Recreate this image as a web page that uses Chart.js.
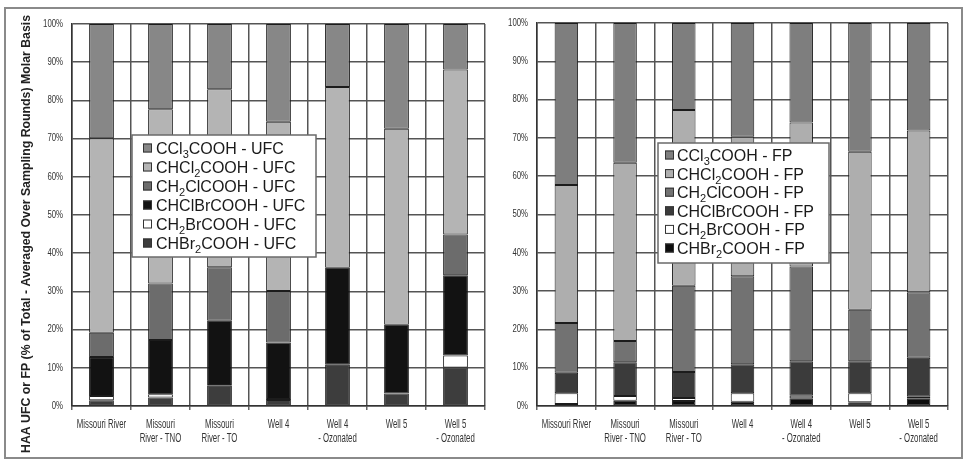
<!DOCTYPE html>
<html>
<head>
<meta charset="utf-8">
<title>HAA speciation - UFC and FP</title>
<script src="https://cdn.jsdelivr.net/npm/chart.js@4.4.1/dist/chart.umd.min.js"></script>
<style>
  html, body { margin: 0; padding: 0; background: #fff; }
  #wrap { position: relative; width: 966px; height: 461px; overflow: hidden; }
  #frame { position: absolute; left: 4px; top: 7px; width: 959px; height: 452px; border: 2px solid #8a8a8a; box-sizing: border-box; }
  canvas { position: absolute; top: 0; }
  #ufcChart { left: 0; }
  #fpChart { left: 490px; }
</style>
</head>
<body>
<div id="wrap">
  <div id="frame"></div>
  <canvas id="ufcChart" width="490" height="461"></canvas>
  <canvas id="fpChart" width="476" height="461"></canvas>
</div>
<script>
// sampling locations
const sites = ['Missouri River', ['Missouri', 'River - TNO'], ['Missouri', 'River - TO'], 'Well 4', ['Well 4', '- Ozonated'], 'Well 5', ['Well 5', '- Ozonated']];

// species, bottom of stack first ("_" marks a subscript digit)
const species = ['CHBr_2COOH', 'CH_2BrCOOH', 'CHClBrCOOH', 'CH_2ClCOOH', 'CHCl_2COOH', 'CCl_3COOH'];

// % of total (molar), UFC
const ufcCHBr2 = [1.5, 2.2, 5.3, 1.6, 10.8, 3.3, 10.1];
const ufcCH2Br = [1.1, 0.9, 0.2, 0.2, 0, 0, 3.1];
const ufcCHClBr = [10.2, 14.2, 16.8, 14.8, 25.4, 18.0, 21.0];
const ufcCH2Cl = [6.4, 14.8, 14.0, 13.5, 0, 0, 10.7];
const ufcCHCl2 = [50.9, 45.6, 46.6, 44.3, 47.3, 51.3, 43.2];
const ufcCCl3 = [29.9, 22.3, 17.1, 25.6, 16.5, 27.4, 11.9];

// % of total (molar), FP
const fpCHBr2 = [0.5, 1.4, 1.3, 1.1, 2.0, 1.0, 2.0];
const fpCH2Br = [2.8, 1.2, 0.8, 2.2, 0.7, 2.3, 0.4];
const fpCHClBr = [5.4, 8.8, 6.8, 7.6, 9.0, 8.4, 10.2];
const fpCH2Cl = [13.0, 5.6, 22.5, 23.0, 24.7, 13.4, 17.1];
const fpCHCl2 = [36.0, 46.5, 45.9, 36.4, 37.6, 41.3, 42.2];
const fpCCl3 = [42.3, 36.5, 22.7, 29.7, 26.0, 33.6, 28.1];

const yTicks = [0, 10, 20, 30, 40, 50, 60, 70, 80, 90, 100];

const ufcFills = ['#3d3d3d', '#ffffff', '#121212', '#6c6c6c', '#b4b4b4', '#878787'];
const fpFills = ['#0d0d0d', '#ffffff', '#3b3b3b', '#727272', '#aeaeae', '#7e7e7e'];

const sans = '"Liberation Sans", Arial, sans-serif';

// writes a formula with subscript digits
function drawFormula(ctx, text, x, y) {
  let cx = x;
  for (let i = 0; i < text.length; i++) {
    if (text[i] === '_') {
      ctx.font = '11px ' + sans;
      ctx.fillText(text[i + 1], cx, y + 4);
      cx += ctx.measureText(text[i + 1]).width;
      i++;
    } else {
      ctx.font = '16px ' + sans;
      ctx.fillText(text[i], cx, y);
      cx += ctx.measureText(text[i]).width;
    }
  }
}

// boxed legend sitting over the plot
const boxLegend = {
  id: 'boxLegend',
  afterDraw(chart, args, o) {
    const ctx = chart.ctx;
    const ds = chart.data.datasets;
    ctx.save();
    ctx.fillStyle = '#fff';
    ctx.fillRect(o.x, o.y, o.w, o.h);
    ctx.strokeStyle = '#6a6a6a';
    ctx.lineWidth = 1.5;
    ctx.strokeRect(o.x, o.y, o.w, o.h);
    ctx.textBaseline = 'alphabetic';
    for (let i = 0; i < ds.length; i++) {
      const d = ds[ds.length - 1 - i];
      const cy = o.firstRow + i * o.rowStep;
      ctx.fillStyle = d.backgroundColor;
      ctx.fillRect(o.swatchX, cy - 4.5, 9, 9);
      ctx.strokeStyle = '#333';
      ctx.lineWidth = 1;
      ctx.strokeRect(o.swatchX + 0.5, cy - 4, 8, 8);
      ctx.fillStyle = '#1a1a1a';
      drawFormula(ctx, d.formula + o.suffix, o.textX, cy + 6);
    }
    ctx.restore();
  }
};

// narrow tick labels (condensed horizontally)
const squeezedTicks = {
  id: 'squeezedTicks',
  afterDraw(chart) {
    const ctx = chart.ctx;
    const xs = chart.scales.x;
    const ys = chart.scales.y;
    ctx.save();
    ctx.fillStyle = '#333';
    ctx.textBaseline = 'middle';
    ctx.font = '13px ' + sans;
    ctx.textAlign = 'center';
    chart.data.labels.forEach((lab, i) => {
      const lines = Array.isArray(lab) ? lab : [lab];
      const px = xs.getPixelForValue(i);
      lines.forEach((ln, j) => {
        ctx.save();
        ctx.translate(px, xs.top + 18.5 + j * 14);
        ctx.scale(0.6, 1);
        ctx.fillText(ln, 0, 0);
        ctx.restore();
      });
    });
    ctx.font = '10px ' + sans;
    ctx.textAlign = 'right';
    yTicks.forEach(v => {
      ctx.save();
      ctx.translate(ys.right - 9, ys.getPixelForValue(v));
      ctx.scale(0.78, 1);
      ctx.fillText(v + '%', 0, 0);
      ctx.restore();
    });
    ctx.restore();
  }
};

// rotated y title, stretched to a fixed length
const sideTitle = {
  id: 'sideTitle',
  afterDraw(chart, args, o) {
    if (!o.text) return;
    const ctx = chart.ctx;
    ctx.save();
    ctx.font = 'bold 12px ' + sans;
    const w = ctx.measureText(o.text).width;
    ctx.translate(o.x, o.y);
    ctx.rotate(-Math.PI / 2);
    ctx.scale(o.length / w, 1);
    ctx.fillStyle = '#222';
    ctx.textAlign = 'center';
    ctx.textBaseline = 'middle';
    ctx.fillText(o.text, 0, 0);
    ctx.restore();
  }
};

function makeChart(id, series, fills, suffix, lay) {
  const datasets = series.map((vals, i) => ({
    label: species[i].replace(/_/g, '') + suffix,
    formula: species[i],
    data: vals,
    backgroundColor: fills[i],
    borderColor: '#1c1c1c',
    borderWidth: 1,
    borderSkipped: false,
    barPercentage: lay.barPct,
    categoryPercentage: 1
  }));

  return new Chart(document.getElementById(id), {
    type: 'bar',
    data: { labels: sites, datasets: datasets },
    plugins: [squeezedTicks, boxLegend, sideTitle],
    options: {
      responsive: false,
      animation: false,
      devicePixelRatio: 1,
      layout: { padding: { top: lay.top, right: lay.right, bottom: 0, left: 0 } },
      plugins: {
        legend: { display: false },
        tooltip: { enabled: false },
        boxLegend: lay.legend,
        sideTitle: lay.title || {}
      },
      scales: {
        x: {
          stacked: true,
          grid: { offset: true, color: '#555', lineWidth: 1.5, tickLength: 4, tickColor: '#666' },
          border: { color: '#333', width: 1.5 },
          ticks: { display: false },
          afterFit(scale) { scale.height = 55; }
        },
        y: {
          stacked: true,
          min: 0,
          max: 100,
          afterBuildTicks(scale) { scale.ticks = yTicks.map(v => ({ value: v })); },
          ticks: { display: false },
          grid: { color: '#555', lineWidth: 1.5, drawTicks: false },
          border: { color: '#333', width: 1.5 },
          afterFit(scale) { scale.width = lay.axisW; }
        }
      }
    }
  });
}

makeChart('ufcChart',
  [ufcCHBr2, ufcCH2Br, ufcCHClBr, ufcCH2Cl, ufcCHCl2, ufcCCl3],
  ufcFills, ' - UFC',
  {
    top: 24, right: 5, axisW: 72, barPct: 0.42,
    legend: { x: 132, y: 135, w: 184, h: 122, firstRow: 148, rowStep: 19, swatchX: 143, textX: 156, suffix: ' - UFC' },
    title: { text: 'HAA UFC or FP (% of Total - Averaged Over Sampling Rounds) Molar Basis', x: 27, y: 234, length: 438 }
  });

makeChart('fpChart',
  [fpCHBr2, fpCH2Br, fpCHClBr, fpCH2Cl, fpCHCl2, fpCCl3],
  fpFills, ' - FP',
  {
    top: 23, right: 18, axisW: 47, barPct: 0.4,
    legend: { x: 168, y: 143, w: 171, h: 120, firstRow: 155, rowStep: 18.6, swatchX: 175, textX: 187, suffix: ' - FP' }
  });
</script>
</body>
</html>
